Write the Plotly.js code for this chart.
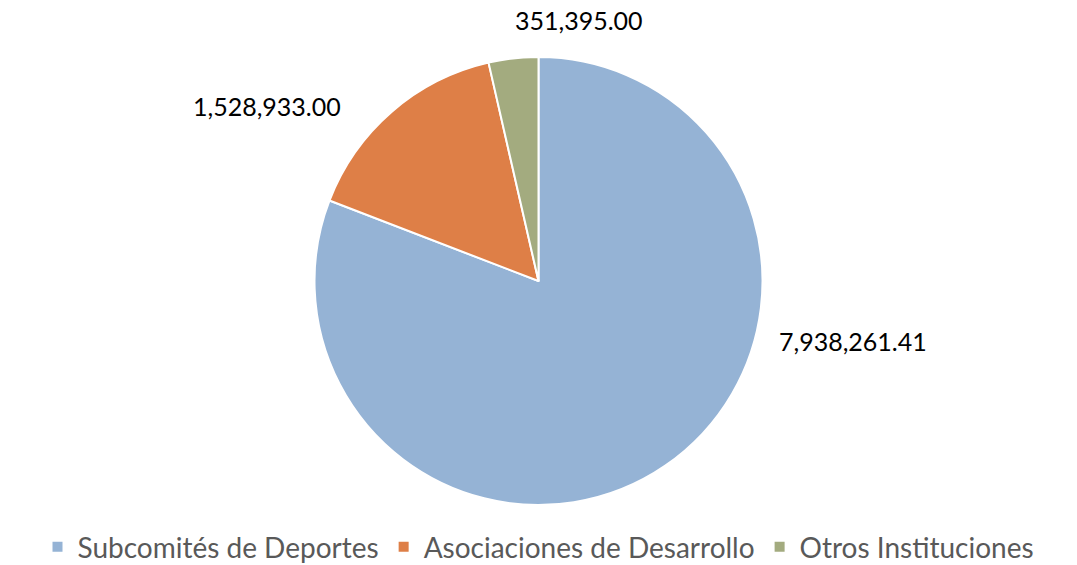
<!DOCTYPE html>
<html><head><meta charset="utf-8">
<script src="https://cdn.plot.ly/plotly-3.0.1.min.js"></script>
<style>html,body{margin:0;padding:0;background:#fff}#chart{width:1077px;height:565px}</style>
</head><body><div id="chart"></div>
<script>
const categories = ["Subcomités de Deportes", "Asociaciones de Desarrollo", "Otros Instituciones"];
const values = [7938261.41, 1528933.00, 351395.00];
const colors = ["#95B3D5", "#DE7F47", "#A3AB7F"];

function fmt(v){ return v.toLocaleString("en-US",{minimumFractionDigits:2,maximumFractionDigits:2}); }

// label anchor points (paper coords) for data labels, Excel-style "best fit"
const labelPos = [[0.792, 0.366], [0.248, 0.891], [0.5376, 1.083]];

const annotations = values.map((v,i)=>({
  xref:"paper", yref:"paper", x:labelPos[i][0], y:labelPos[i][1],
  text: fmt(v), showarrow:false, xanchor:"center", yanchor:"middle",
  font:{family:"Lato, 'Open Sans', sans-serif", size:25, color:"#000"}
}));

const trace = {
  type:"pie", labels:categories, values:values, sort:false, direction:"clockwise", rotation:0,
  marker:{colors:colors, line:{color:"#fff", width:2}},
  textinfo:"none", hoverinfo:"label+value"
};
const layout = {
  width:1077, height:565,
  margin:{l:0, r:0, t:57, b:60, autoexpand:false},
  paper_bgcolor:"#fff",
  showlegend:true,
  legend:{orientation:"h", x:0.5, xanchor:"center", y:-0.094, yanchor:"middle",
    font:{family:"Lato, 'Open Sans', sans-serif", size:28, color:"#595959"},
    itemwidth:30, tracegroupgap:0},
  annotations:annotations
};
Plotly.newPlot("chart",[trace],layout,{displayModeBar:false,staticPlot:true});
</script></body></html>
